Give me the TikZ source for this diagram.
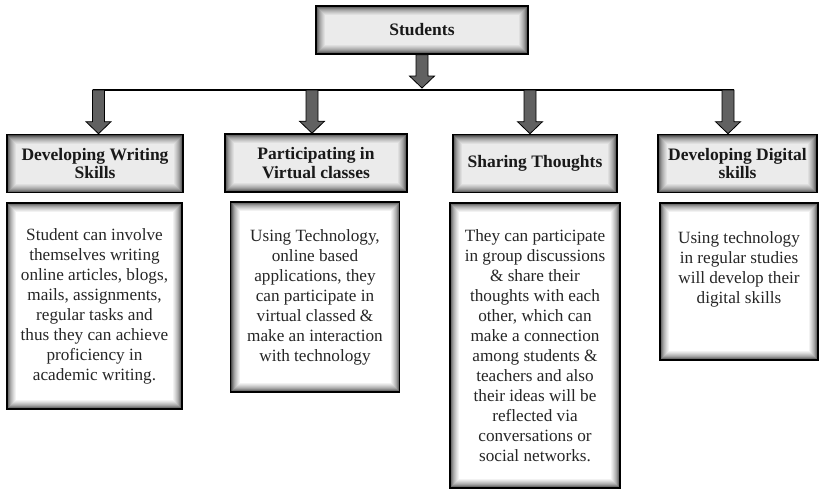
\documentclass[tikz,border=0pt]{standalone}
\usepackage{fontspec}
\setmainfont{Liberation Serif}
\usetikzlibrary{calc}
\newcommand{\headfont}{\fontsize{17.5}{18.5}\selectfont\bfseries}
\newcommand{\bodyfont}{\fontsize{17.2}{20}\selectfont}
% block arrow from #1 down to the tip #2
\newcommand{\blockarr}[2]{%
  \draw[arrowbody] ($(#1)+(-6,0)$) -- ($(#2)+(-6,-12)$) -- ($(#2)+(-12.5,-12)$) -- (#2)
    -- ($(#2)+(12.5,-12)$) -- ($(#2)+(6,-12)$) -- ($(#1)+(6,0)$) -- cycle;}
\tikzset{
  innershadow/.style={path picture={
    \foreach \w/\o in {18/0.05,16/0.05,14/0.06,12/0.07,10/0.08,8/0.1,6/0.14,4/0.2,2/0.3}
      \draw[line width=\w pt, black, opacity=\o] (path picture bounding box.south west) rectangle (path picture bounding box.north east);}},
  headbox/.style={draw=black, line width=1.6pt, fill=gray!16, innershadow, minimum height=58pt, inner sep=0pt, align=center, font=\headfont, text=black!90},
  descbox/.style={draw=black, line width=1.6pt, fill=white, innershadow, inner sep=0pt, align=center, font=\bodyfont, text=black!85},
  arrowbody/.style={draw=black, line width=0.8pt, left color=black!62, middle color=black!38, right color=black!62},
}
\begin{document}
\begin{tikzpicture}[x=1pt, y=-1pt]
\useasboundingbox (0,0) rectangle (819,490);
% top box
\node[headbox, minimum width=212pt, minimum height=48pt] (S) at (422,30) {Students};
% headings
\node[headbox, minimum width=176pt] (h1) at (95,163.5) {Developing Writing\\Skills};
\node[headbox, minimum width=182pt] (h2) at (316,163) {Participating in\\Virtual classes};
\node[headbox, minimum width=164pt] (h3) at (535,163.5) {Sharing Thoughts};
\node[headbox, minimum width=159pt] (h4) at (737.5,163.5) {Developing Digital\\skills};
% descriptions
\node[descbox, minimum width=175pt, minimum height=206pt] (d1) at (94.5,306) {Student can involve\\themselves writing\\online articles, blogs,\\mails, assignments,\\regular tasks and\\thus they can achieve\\proficiency in\\academic writing.};
\node[descbox, minimum width=169pt, minimum height=190pt] (d2) at (315,297) {Using Technology,\\online based\\applications, they\\can participate in\\virtual classed \&\\make an interaction\\with technology};
\node[descbox, minimum width=170pt, minimum height=285pt] (d3) at (535,345.5) {They can participate\\in group discussions\\\& share their\\thoughts with each\\other, which can\\make a connection\\among students \&\\teachers and also\\their ideas will be\\reflected via\\conversations or\\social networks.};
\node[descbox, minimum width=158pt, minimum height=157pt] (d4) at (739,281.5) {Using technology\\in regular studies\\will develop their\\digital skills\\[8pt]\mbox{}};
% bus line
\coordinate (jn) at (422,88);
\coordinate (b1) at (98.5,90);
\coordinate (b2) at (312,90);
\coordinate (b3) at (530,90);
\coordinate (b4) at (728,90);
\draw[line width=2.5pt] ($(b1)+(-6,0)$) -- ($(b4)+(6,0)$);
% arrows
\blockarr{S.south}{jn}
\blockarr{b1}{b1 |- h1.north}
\blockarr{b2}{b2 |- h2.north}
\blockarr{b3}{b3 |- h3.north}
\blockarr{b4}{b4 |- h4.north}
\end{tikzpicture}
\end{document}
